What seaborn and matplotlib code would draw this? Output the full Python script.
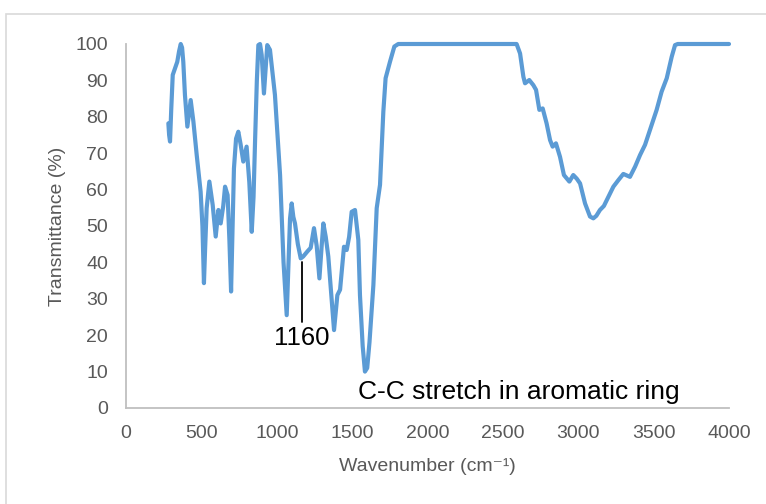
import matplotlib
matplotlib.use("Agg")
import matplotlib.pyplot as plt
import seaborn as sns
import pandas as pd
from matplotlib.patches import Rectangle

# FTIR spectrum
wavenumber = [281, 286, 292, 300, 310, 325, 340, 352, 363, 372, 380, 391, 407, 418,
              429, 447, 469, 495, 507, 517, 525, 535, 553, 575, 595, 613, 628, 645,
              657, 674, 686, 697, 706, 716, 730, 745, 760, 778, 800, 818, 834, 846,
              856, 868, 878, 889, 900, 915, 926, 937, 955, 988, 1022, 1045, 1066,
              1078, 1088, 1099, 1110, 1121, 1140, 1159, 1175, 1203, 1225, 1247, 1265,
              1283, 1297, 1309, 1325, 1342, 1362, 1380, 1402, 1420, 1446, 1464, 1480,
              1497, 1519, 1541, 1552, 1570, 1585, 1600, 1615, 1641, 1663, 1685, 1707,
              1722, 1751, 1780, 1806, 2591, 2614, 2636, 2647, 2675, 2702, 2720, 2742,
              2764, 2790, 2813, 2830, 2852, 2879, 2905, 2941, 2967, 2990, 3012, 3045,
              3078, 3100, 3120, 3144, 3170, 3200, 3233, 3266, 3299, 3343, 3377, 3410,
              3443, 3476, 3520, 3553, 3587, 3620, 3642, 3660, 4000]
transmittance = [78.2, 75.0, 73.2, 82.0, 91.5, 93.3, 95.1, 98.0, 100.0, 99.0, 95.1,
                 86.0, 77.3, 81.0, 84.6, 78.7, 69.5, 59.4, 50.0, 34.3, 44.0, 54.9,
                 62.2, 55.8, 47.1, 54.4, 50.7, 55.5, 60.8, 58.5, 46.0, 32.0, 48.0,
                 65.8, 74.0, 75.9, 72.5, 67.7, 71.8, 62.0, 48.4, 58.0, 73.2, 90.0,
                 99.7, 100.0, 97.0, 86.4, 93.0, 99.7, 98.4, 86.0, 64.0, 40.0, 25.5,
                 40.0, 52.0, 56.2, 52.5, 50.7, 45.0, 41.1, 41.6, 43.0, 44.0, 49.4,
                 44.5, 35.6, 44.0, 50.7, 47.0, 41.6, 31.0, 21.4, 31.0, 32.5, 44.3,
                 43.4, 47.0, 53.9, 54.4, 46.2, 31.0, 17.0, 10.0, 11.0, 18.0, 33.8,
                 54.9, 61.3, 81.4, 90.6, 95.1, 99.3, 100.0, 100.0, 97.4, 91.0, 89.2,
                 90.1, 88.7, 87.4, 81.9, 82.3, 78.2, 73.6, 71.8, 72.7, 69.0, 64.0,
                 62.2, 64.0, 63.0, 61.7, 56.2, 52.6, 52.1, 52.8, 54.4, 55.5, 58.0,
                 60.8, 62.6, 64.3, 63.5, 66.3, 69.5, 72.3, 76.4, 81.9, 86.9, 90.6,
                 96.5, 99.7, 100.0, 100.0]

x_ticks = [0, 500, 1000, 1500, 2000, 2500, 3000, 3500, 4000]
y_ticks = [0, 10, 20, 30, 40, 50, 60, 70, 80, 90, 100]

peak_label = "1160"
band_label = "C-C stretch in aromatic ring"

df = pd.DataFrame({"Wavenumber": wavenumber, "Transmittance": transmittance})

sns.set_style("white")
plt.rcParams["font.family"] = ["Liberation Sans", "DejaVu Sans"]

fig = plt.figure(figsize=(7.66, 5.04), dpi=100)
ax = fig.add_axes([0.1645, 0.1905, 0.7872, 0.7222])

sns.lineplot(data=df, x="Wavenumber", y="Transmittance", ax=ax,
             color="#5B9BD5", linewidth=3.0, sort=False)
for l in ax.lines:
    l.set_clip_on(False)
    l.set_solid_joinstyle("round")
    l.set_solid_capstyle("round")

ax.set_xlim(0, 4000)
ax.set_ylim(0, 100)
ax.set_xticks(x_ticks)
ax.set_yticks(y_ticks)
ax.tick_params(length=0, labelsize=14, colors="#595959")
ax.tick_params(axis="y", pad=13)
ax.tick_params(axis="x", pad=12)

for side in ["top", "right"]:
    ax.spines[side].set_visible(False)
for side in ["left", "bottom"]:
    ax.spines[side].set_color("#BFBFBF")
    ax.spines[side].set_linewidth(1.3)

ax.set_xlabel("Wavenumber (cm\u207b\u00b9)", fontsize=14, color="#595959", labelpad=12)
ax.set_ylabel("Transmittance (%)", fontsize=14, color="#595959", labelpad=7)

# annotations
ax.plot([1167, 1167], [40.0, 23.6], color="black", linewidth=1.3)
ax.text(1164, 19.2, peak_label, fontsize=18.5, ha="center", va="center", color="black")
ax.text(1540, 4.4, band_label, fontsize=19, ha="left", va="center", color="black")

# light chart-area frame
fig.patches.append(Rectangle((6 / 766, -0.1), 1.2, 1 - 14 / 504 + 0.1,
                             transform=fig.transFigure, fill=False,
                             edgecolor="#D9D9D9", linewidth=1.2))

fig.savefig("out.png", dpi=100)
